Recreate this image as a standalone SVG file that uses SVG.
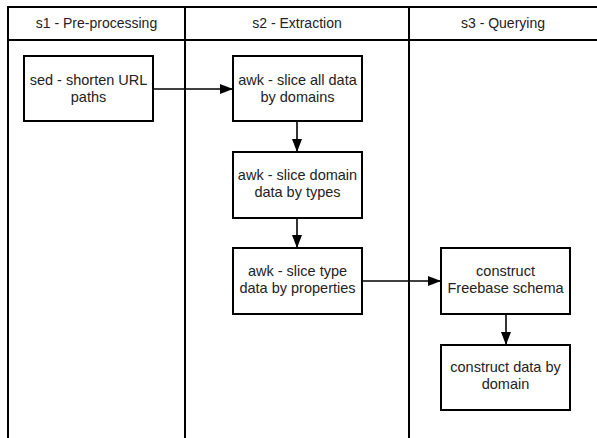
<svg xmlns="http://www.w3.org/2000/svg" width="597" height="438" viewBox="0 0 597 438">
<style>
.lane{fill:none;stroke:#000;stroke-width:2}
.box{fill:#fff;stroke:#000;stroke-width:2}
.t{font-family:"Liberation Sans",Arial,sans-serif;font-size:14.5px;fill:#222;text-anchor:middle}
.h{font-size:14px}
.c{fill:none;stroke:#000;stroke-width:1.6}
</style>
<defs>
<marker id="ah" markerWidth="13" markerHeight="10" refX="12" refY="5" orient="auto" markerUnits="userSpaceOnUse">
<path d="M0,0 L13,5 L0,10 Z" fill="#000"/>
</marker>
</defs>
<rect width="597" height="438" fill="#fff"/>
<g id="lanes">
<path class="lane" d="M8,445 V7 H610 M8,40 H610 M185,7 V445 M409,7 V445"/>
<text class="t h" x="96.5" y="28">s1 - Pre-processing</text>
<text class="t h" x="297" y="28">s2 - Extraction</text>
<text class="t h" x="503" y="28">s3 - Querying</text>
</g>
<g id="connectors">
<path class="c" d="M153,89 H232" marker-end="url(#ah)"/>
<path class="c" d="M297,121 V151" marker-end="url(#ah)"/>
<path class="c" d="M297,218 V247" marker-end="url(#ah)"/>
<path class="c" d="M362,281 H440" marker-end="url(#ah)"/>
<path class="c" d="M506,314 V344" marker-end="url(#ah)"/>
</g>
<g id="n1"><rect class="box" x="24" y="56" width="129" height="65"/><text class="t" x="88.5" y="85">sed - shorten URL</text><text class="t" x="88.5" y="102">paths</text></g>
<g id="n2"><rect class="box" x="233" y="56" width="129" height="65"/><text class="t" x="297.5" y="85">awk - slice all data</text><text class="t" x="297.5" y="102">by domains</text></g>
<g id="n3"><rect class="box" x="233" y="152" width="129" height="66"/><text class="t" x="297.5" y="180">awk - slice domain</text><text class="t" x="297.5" y="197">data by types</text></g>
<g id="n4"><rect class="box" x="233" y="248" width="129" height="66"/><text class="t" x="297.5" y="276">awk - slice type</text><text class="t" x="297.5" y="293">data by properties</text></g>
<g id="n5"><rect class="box" x="441" y="248" width="129" height="66"/><text class="t" x="505.5" y="276">construct</text><text class="t" x="505.5" y="293">Freebase schema</text></g>
<g id="n6"><rect class="box" x="441" y="345" width="129" height="65"/><text class="t" x="505.5" y="372">construct data by</text><text class="t" x="505.5" y="389">domain</text></g>
</svg>
